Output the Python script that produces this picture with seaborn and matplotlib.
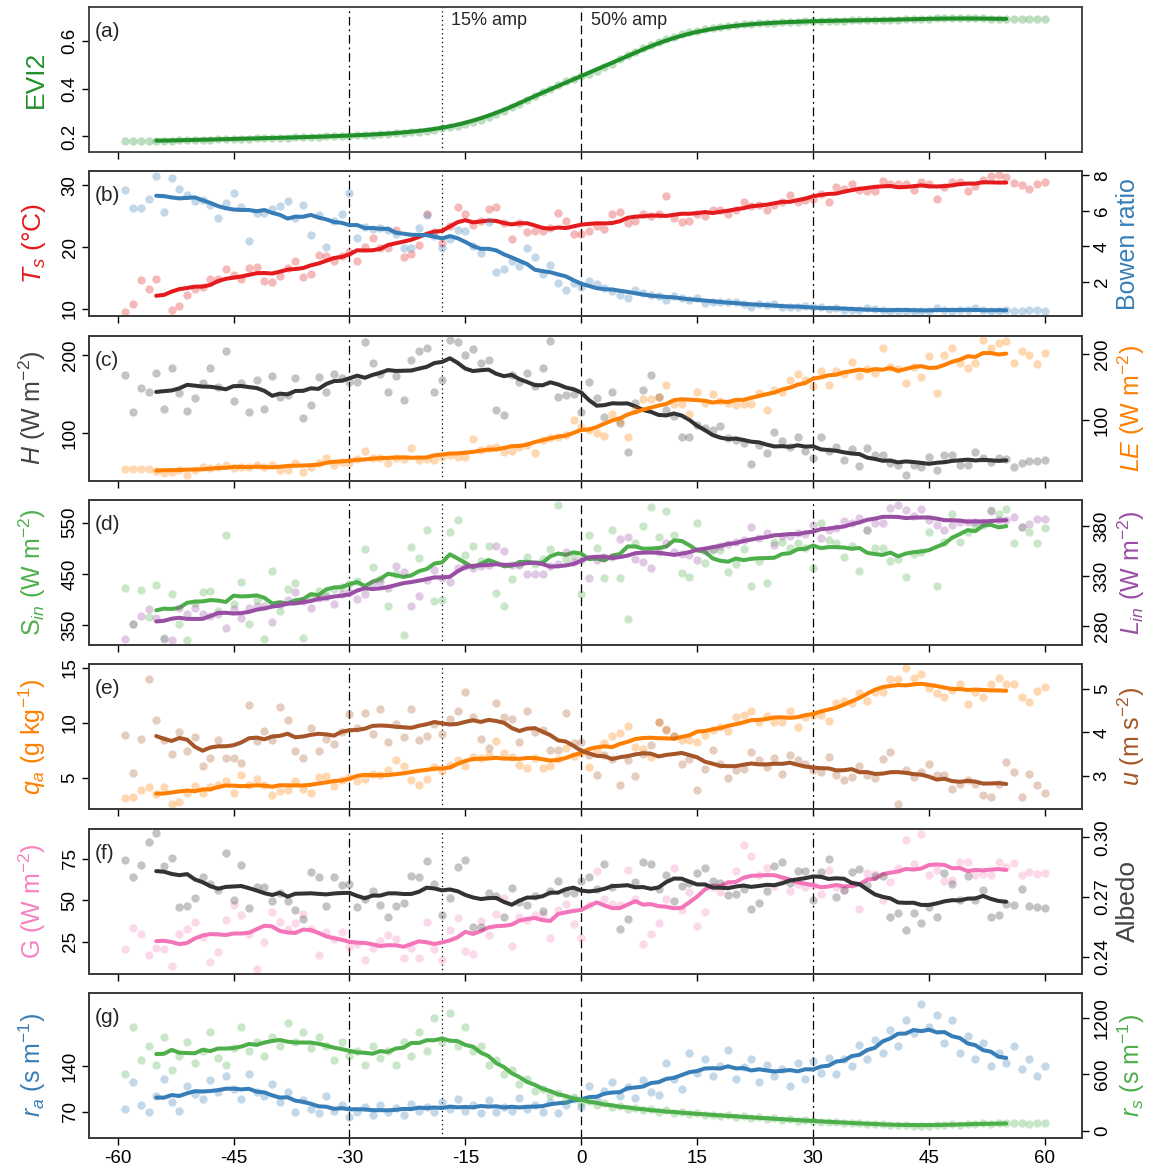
import numpy as np
import pandas as pd
import matplotlib
matplotlib.use("Agg")
import matplotlib.pyplot as plt
import seaborn as sns

# ---------------- data (days -60 .. 60, one value per day) ----------------
DAYS = list(range(-60, 61))
N = None

EVI2 = [N, .181, .181, .181, .181, .182, .183, .183, .184, .185,
        .186, .186, .187, .188, .189, .190, .191, .191, .192, .193,
        .194, .195, .195, .196, .197, .198, .199, .200, .201, .202,
        .204, .205, .207, .208, .210, .211, .213, .215, .218, .220,
        .224, .229, .235, .240, .245, .251, .260, .270, .281, .294,
        .308, .323, .338, .354, .370, .385, .400, .417, .433, .442,
        .452, .463, .476, .491, .506, .523, .540, .555, .569, .583,
        .597, .608, .618, .628, .637, .643, .649, .655, .660, .664,
        .667, .670, .672, .674, .676, .678, .679, .681, .682, .683,
        .684, .685, .685, .686, .686, .687, .687, .688, .688, .688,
        .689, .690, .691, .692, .693, .694, .695, .695, .696, .696,
        .696, .695, .695, .694, .694, .693, .692, .692, .691, .691, .691]

TS = [N, 9.5, 10.8, 14.7, 13.3, 14.9, N, 9.9, 10.5, 12.2,
      13.3, 13.6, 14.8, 14.9, 16.5, 15.5, 14.9, 16.6, 16.8, 14.5,
      14.3, 15.3, 16.6, 17.8, 15.2, 15.6, 18.8, 18.5, 17.7, 18.5,
      19.3, 17.7, 20.1, 21.5, 19.8, 19.8, 22.8, 18.4, 18.9, 20.3,
      25.3, 22.4, 20.7, 23.4, 26.5, 25.4, 23.6, 24.2, 26.2, 26.5,
      24.0, 21.4, 24.0, 22.4, 22.6, 22.7, 23.1, 25.5, 24.3, 22.2,
      22.2, 22.6, 23.5, 23.0, 25.4, 25.7, 24.0, 24.2, 25.3, 25.0,
      25.4, 28.3, 24.7, 24.1, 24.3, 25.4, 25.0, 26.1, 26.0, 25.3,
      26.1, 27.3, 26.6, 26.9, 26.0, 26.9, 27.4, 28.4, 27.3, 27.6,
      27.8, 28.6, 27.4, 29.7, 29.5, 30.2, 29.3, 29.1, 29.1, 30.7,
      30.3, 30.2, 30.2, 29.3, 30.5, 30.3, 27.8, 29.8, 30.5, 30.6,
      29.1, 29.9, 30.9, 31.5, 31.7, 31.3, 30.4, 30.1, 29.5, 30.2, 30.6]

BOWEN = [N, 7.15, 6.15, 6.15, 6.66, 7.98, 5.96, 7.85, 7.23, 6.87,
         6.53, 6.6, 6.34, 5.58, 6.43, 7.0, 6.2, 4.32, 5.87, 5.87,
         6.1, 6.25, 6.58, 5.58, 6.34, 4.64, 5.77, 3.94, 5.45, 5.83,
         7.0, 4.49, 5.1, 5.0, 5.02, 4.92, 4.7, 3.92, 3.92, 5.02,
         5.77, 4.6, 3.89, 4.4, 4.92, 4.87, 4.0, 3.6, 5.4, 2.57,
         2.75, 3.2, 2.89, 3.89, 3.42, 2.47, 2.94, 1.94, 1.53, 1.91,
         1.72, 2.06, 1.87, 1.66, 1.49, 1.25, 1.11, 1.53, 1.38, 1.25,
         1.19, 1.0, 1.19, 1.11, 0.96, 1.11, 0.81, 0.87, 0.87, 0.87,
         0.87, 0.74, 0.58, 0.74, 0.68, 0.74, 0.58, 0.58, 0.58, 0.62,
         0.58, 0.58, 0.49, 0.53, 0.40, 0.43, 0.40, 0.55, 0.49, 0.40,
         0.36, 0.36, 0.36, 0.38, 0.36, 0.38, 0.55, 0.40, 0.38, 0.40,
         0.40, 0.55, 0.40, 0.38, 0.38, 0.40, 0.36, 0.36, 0.40, 0.40, 0.36]

H = [N, 174.5, 127.7, 157.4, 153.2, 176.6, 130.6, 183, 151, 128.5,
     145.5, 163.8, 183.8, 158.7, 205.5, 141.7, 163.8, 127.7, 168, 130.6,
     173.2, 146.8, 149, 170.2, 119.1, 136.2, 172.3, 153.2, 175.3, 170,
     166, 165, 216, 189.4, 175.3, 153.2, 173.6, 142.6, 193.6, 205,
     208.5, 153.2, 168, 219, 216, 200, 207, 189.4, 193.6, 129.8,
     123.4, 174.5, 165, 176.6, 160, 183, 218.3, 146.8, 149, 150,
     127.7, 165, 144.7, 121.3, 153.2, 113.6, 76.6, 139.1, 155.3, 174.5,
     146.8, 130, 122.1, 94.9, 94.9, 110, 106.4, 104.3, 109.8, 93.6,
     92, 87.2, 60.9, 85, 75.3, 101.3, 90.6, 82, 94.9, 77.9,
     68.1, 95.7, 78, 83, 66, 79.6, 58.3, 80.9, 72.3, 72.3,
     61.7, 59.6, 46.4, 59.6, 57.4, 69.4, 53.2, 72.3, 72.3, 59.6,
     59.6, 76.6, 68.1, 63.8, 68.1, 67, 57.4, 62.6, 65.1, 65.1, 66]

LE = [N, 25.8, 25.8, 25.8, 25.8, 23, 19.2, 21.7, 24.2, 16.7,
      24.2, 28.3, 26.8, 29.3, 31.8, 26.8, 28.3, 29.3, 31.8, 28.3,
      31.8, 24.2, 24.2, 35.4, 21.7, 29.3, 34.3, 42.9, 31.8, 35.9,
      34.3, 40.9, 53.5, 42, 41.9, 34.3, 42, 40.9, 57.1, 39.4,
      40.9, 39.4, 44.4, 47, 44.4, 43.4, 70.7, 54.5, 58.1, 59.6,
      52, 53.5, 59.6, 62.1, 49.5, 69.7, 72.2, 74.7, 77.3, 100,
      89.9, 85, 80.8, 75.8, 109, 99, 74.7, 115, 131, 131,
      135, 153, 124, 124, 109, 143, 126, 139, 129, 125,
      123, 124, 124, 141, 115, 145, 143, 160.6, 169, 160,
      151.5, 174.7, 153, 174.7, 169, 187.4, 167, 177, 170.7, 208.6,
      179.8, 177, 155.6, 180.8, 164.6, 197, 140.4, 198.5, 208.6, 185.9,
      178.3, 185.9, 221, 208.6, 217, 220, 185.9, 205, 198.5, 184.3, 201]

SIN = [N, 422.5, 353, 418, 366, 429, 325, 411.5, 353, 322,
       393, 414.7, 416, 377, 526, 391.4, 433.5, 353, 400, 324,
       456, 377, 421.2, 432.2, 325, 405, 416, 410, 420, 425,
       430, 435.4, 499, 463.3, 440, 387, 450, 332, 501.5, 480.7,
       536, 396.6, 400, 531, 554, 486, 504.7, 476, 503.4, 412.8,
       387, 440.6, 470, 482.7, 470, 480, 499, 584, 480, 485,
       411.5, 524.8, 500, 442, 535.8, 442, 363, 511, 544, 581,
       521.5, 573, 524.8, 451.6, 445, 548.7, 471, 497, 497, 453.6,
       469, 498.9, 425.7, 474.3, 432.2, 513, 513, 500, 510, 500,
       461.3, 548.7, 516.3, 510, 482, 505, 454.9, 535.8, 500, 500,
       474.3, 479.4, 445, 488.5, 492.4, 531.2, 425.7, 513, 566.8, 513,
       530.6, 545, 545, 574.6, 566.2, 576.5, 509.9, 542.2, 532.5, 511, 538.7]

LIN = [N, 266.7, 282, 290.3, 297, 288, 267, 266, 297.7, 292,
       297.7, 291.7, 290, 292, 277.7, 297, 288.3, 298, 300, 300,
       283.7, 302, 306, 314.3, 305, 297.7, 308, 309, 302, 312,
       314, 306.7, 311.7, 322.7, 323.7, 318.3, 340.3, 333.7, 300, 310,
       326, 336, 328, 323.7, 338, 340.3, 337.7, 340, 341, 360.3,
       355, 341, 341, 332, 332, 332, 340, 342, 354.3, 344,
       346, 327.7, 346, 349, 349, 366.7, 368.7, 347, 344.3, 338.3,
       354, 362.7, 354, 352, 351, 346, 355, 357, 360, 362,
       364, 366, 379.3, 368, 372.7, 361, 370, 370, 372.7, 372,
       381, 368.3, 376, 378, 385, 383, 388.3, 376, 382.7, 382.7,
       397.7, 401, 396, 390, 397, 386, 381, 376, 381, 384,
       384, 384, 384, 395, 386, 386, 389.3, 378.7, 381.7, 387, 387]

QA = [N, 3.19, 3.34, 3.95, 4.25, 3.6, 4.25, 2.68, 2.89, 3.64,
      4.31, 3.7, 4.2, 4.4, 4.79, 3.64, 5.3, 4.4, 4.94, 4.4,
      3.49, 3.86, 3.95, 4.79, 4.04, 3.7, 5.15, 5.21, 4.31, 4.85,
      5.1, 4.79, 4.91, 5.36, 5.3, 5.75, 6.6, 6.11, 4.85, 4.4,
      4.94, 5.99, 5.66, 6.2, 6.66, 6.11, 6.96, 6.8, 7.11, 8.4,
      7.32, 6.9, 6.2, 5.9, 6.87, 5.9, 6.11, 6.7, 7.71, 7.0,
      7.26, 5.99, 7.5, 8.16, 8.77, 9.07, 9.76, 7.8, 7.62, 6.96,
      10.12, 9.43, 8.77, 8.46, 8.46, 8.31, 8.92, 9.37, 9.67, 9.22,
      10.57, 10.72, 11.11, 10.06, 10.66, 10.06, 10.12, 11.11, 9.67, 10.57,
      10.72, 10.72, 10.18, 11.78, 12.02, 11.78, 12.68, 12.02, 12.83, 12.83,
      13.98, 13.98, 14.94, 14.04, 14.43, 13.13, 12.68, 12.38, 12.98, 13.52,
      11.72, 12.83, 12.38, 13.52, 14.04, 13.52, 13.52, 12.32, 11.93, 12.92, 13.22]

U = [N, 3.95, 3.07, 3.84, 5.21, 4.29, 3.82, 3.5, 4.01, 3.57,
     3.89, 3.22, 3.41, 3.82, 3.41, 3.42, 3.3, 4.63, 3.8, 4.02,
     3.83, 4.58, 4.29, 3.57, 3.41, 4.11, 3.57, 3.84, 3.73, 4.0,
     4.43, 4.1, 4.44, 3.97, 4.54, 3.78, 4.2, 3.89, 4.54, 3.83,
     3.91, 4.2, 3.97, 4.3, 4.49, 4.92, 4.35, 3.84, 3.63, 4.68,
     4.35, 4.31, 3.78, 4.49, 4.01, 4.05, 3.6, 3.59, 4.44, 3.76,
     3.78, 3.47, 3.02, 3.47, 3.4, 2.79, 3.37, 2.99, 3.5, 3.7,
     4.24, 4.06, 3.91, 3.28, 3.4, 2.69, 3.17, 3.59, 3.27, 2.96,
     3.13, 3.15, 3.55, 3.36, 3.21, 3.41, 3.05, 3.47, 3.36, 3.28,
     3.13, 3.09, 3.44, 3.02, 2.92, 2.98, 3.22, 3.02, 2.96, 3.4,
     3.55, 2.35, 3.13, 2.98, 3.09, 3.27, 3.02, 3.02, 2.71, 2.82,
     2.9, 2.81, 2.56, 2.53, 2.81, 3.32, 3.09, 2.52, 3.05, 2.79, 2.61]

G = [N, 21, 33.6, 30, 17, 21.4, 21, 10.4, 29.6, 33,
     37, 28, 13, 19, 38, 47, 41, 30, 9, 25,
     43, 37, 33, 36.4, 42, 33, 17.4, 31, 27, 31,
     22, 24, 14, 21.6, 25.6, 29, 27, 15.6, 21.6, 15.6,
     37, 21, 14.4, 32, 39.6, 19.4, 17.6, 37.6, 29, 42,
     51.6, 22.6, 40, 38, 41, 42, 27.4, 44, 48, 36,
     27.4, 47, 67.6, 51, 48, 47, 68.4, 51, 24, 30,
     36.4, 50.6, 69.4, 44.4, 55, 34.4, 43, 58, 55, 60,
     67.6, 83, 76.4, 65, 69.6, 58.4, 62, 55.6, 60, 58,
     59, 53.6, 68.4, 58, 56, 60, 45, 66.4, 66, 50,
     61, 69.4, 86.4, 72, 90, 65, 68, 61.6, 62.4, 73,
     73, 65, 66, 65, 73, 70, 72.4, 65, 67, 66, 66.6]

ALBEDO = [N, .2889, .2802, .2864, .2978, .302, .2856, .2898, .2648, .2655,
          .2697, .2799, .2764, .2735, .2923, .2685, .2864, .2643, .275, .275,
          .268, .272, .268, .2635, .2588, .2824, .2802, .2656, .2802, .276,
          .2764, .2648, .2693, .273, .266, .2598, .2655, .267, .2806, .2802,
          .2883, .2764, .261, .2697, .2853, .2886, .2551, .2551, .2722, .2705,
          .2598, .2744, .2677, .266, .2707, .2631, .2732, .278, .272, .272,
          .278, .2799, .274, .2866, .275, .2542, .2588, .2777, .2878, .2869,
          .2739, .2811, .2682, .2755, .277, .2822, .2844, .278, .277, .271,
          .2718, .274, .2638, .2672, .2732, .2858, .2878, .277, .2832, .2832,
          .2688, .2827, .2894, .2702, .2735, .2827, .2839, .276, .2806, .2806,
          .2601, .2621, .2534, .262, .2568, .2648, .2601, .2819, .2765, .2685,
          .2806, .2685, .2735, .2598, .261, .2665, .266, .2739, .2655, .2648, .2643]

RA = [N, 75, 115, 80, 70, 95, 120, 85, 72, 110,
      98, 90, 118, 100, 125, 105, 90, 128, 100, 95,
      112, 85, 100, 70, 88, 75, 68, 95, 72, 80,
      62, 70, 78, 65, 80, 70, 76, 65, 82, 72,
      78, 70, 85, 75, 90, 72, 80, 68, 88, 70,
      78, 72, 92, 75, 80, 70, 85, 68, 80, 90,
      78, 110, 88, 102, 115, 95, 108, 92, 118, 100,
      96, 145, 120, 105, 160, 130, 150, 125, 140, 165,
      120, 138, 150, 115, 142, 125, 135, 110, 145, 120,
      148, 130, 152, 128, 150, 140, 172, 150, 180, 160,
      195, 170, 210, 190, 235, 200, 218, 175, 210, 160,
      185, 150, 175, 140, 160, 145, 170, 135, 150, 125, 140]

RS = [N, 600, 1100, 750, 900, 700, 1000, 650, 800, 950,
      720, 850, 1050, 780, 700, 880, 1100, 850, 950, 800,
      1000, 900, 1150, 950, 1050, 880, 1000, 900, 750, 950,
      800, 850, 700, 900, 780, 850, 700, 950, 800, 1050,
      850, 1200, 950, 1250, 900, 1100, 850, 900, 700, 750,
      600, 650, 500, 550, 420, 450, 380, 400, 330, 360,
      300, 320, 280, 300, 250, 270, 230, 240, 220, 230,
      200, 220, 190, 200, 180, 190, 170, 175, 160, 165,
      150, 155, 140, 145, 130, 135, 120, 125, 110, 115,
      105, 100, 95, 100, 90, 85, 80, 75, 70, 72,
      65, 60, 62, 58, 55, 58, 62, 65, 70, 68,
      72, 75, 80, 78, 82, 80, 85, 80, 78, 82, 80]

X_TICKS = [-60, -45, -30, -15, 0, 15, 30, 45, 60]
PANEL_LETTERS = ["(a)", "(b)", "(c)", "(d)", "(e)", "(f)", "(g)"]

for _arr in (EVI2, TS, BOWEN, H, LE, SIN, LIN, QA, U, G, ALBEDO, RA, RS):
    assert len(_arr) == len(DAYS), len(_arr)

# ---------------- style ----------------
sns.set_theme(style="ticks")
plt.rcParams['font.family'] = ['Liberation Sans', 'DejaVu Sans']
plt.rcParams['mathtext.fontset'] = 'custom'
plt.rcParams['mathtext.rm'] = 'Liberation Sans'
plt.rcParams['mathtext.it'] = 'Liberation Sans:italic'
plt.rcParams['mathtext.bf'] = 'Liberation Sans:bold'
plt.rcParams['axes.unicode_minus'] = False

C_EVI = '#21902a'
C_RED = '#e41a1c'
C_BLUE = '#377eb8'
C_GRAY = '#3a3a3a'
C_ORANGE = '#ff7f00'
C_GREEN = '#4daf4a'
C_PURPLE = '#984ea3'
C_BROWN = '#a65628'
C_PINK = '#f781bf'
C_PINK_L = '#f374b8'
SPINE = '#3c3c3c'

TICK_FS = 13.5
LABEL_FS = 18

W_PX, H_PX = 1156, 1172
fig = plt.figure(figsize=(W_PX / 100, H_PX / 100), dpi=100)

LEFT_PX, RIGHT_PX = 89, 1082
TOP0, PITCH, HGT = 7, 164.3, 145
XLIM = (-63.7, 64.8)


def smooth(vals):
    s = pd.Series(np.array(vals, dtype=float), index=DAYS)
    r = s.rolling(11, center=True, min_periods=1).mean().loc[-55:55]
    return r.index.values, r.values


def draw(ax, vals, color, lcolor=None):
    d = pd.DataFrame({'day': DAYS, 'v': np.array(vals, dtype=float)}).dropna()
    sns.scatterplot(data=d, x='day', y='v', ax=ax, color=color, alpha=0.3,
                    s=36, linewidth=0, legend=False, zorder=2)
    sx, sy = smooth(vals)
    sns.lineplot(x=sx, y=sy, ax=ax, color=lcolor or color, lw=2.9,
                 estimator=None, legend=False, zorder=3)
    ax.set_xlabel('')
    ax.set_ylabel('')


def style_y(ax, ylim, ticks, labels, label, color, side, fs=LABEL_FS):
    ax.set_ylim(*ylim)
    ax.set_yticks(ticks)
    ax.set_yticklabels(labels, rotation=90, va='center')
    if side == 'left':
        ax.tick_params(axis='y', direction='out', length=5, width=1, colors='black',
                       labelsize=TICK_FS, pad=2.5, left=True, right=False,
                       labelleft=True, labelright=False)
        ax.set_ylabel(label, color=color, fontsize=fs)
        ax.yaxis.set_label_coords(-0.041, 0.5)
    else:
        ax.tick_params(axis='y', direction='out', length=5, width=1, colors='black',
                       labelsize=TICK_FS, pad=3.5, left=False, right=True,
                       labelleft=False, labelright=True)
        ax.set_ylabel(label, color=color, fontsize=fs)
        ax.yaxis.set_label_position('right')
        ax.yaxis.set_label_coords(1.034, 0.5)
    for sp in ax.spines.values():
        sp.set_visible(True)
        sp.set_color(SPINE)
        sp.set_linewidth(1.3)


def make_panel(k):
    top = TOP0 + PITCH * k
    ax = fig.add_axes([LEFT_PX / W_PX, 1 - (top + HGT) / H_PX,
                       (RIGHT_PX - LEFT_PX) / W_PX, HGT / H_PX])
    ax.set_xlim(*XLIM)
    return ax


def finish_x(ax, k, last):
    ax.set_xlim(*XLIM)
    ax.set_xticks(X_TICKS)
    ax.set_xticklabels([str(t) for t in X_TICKS])
    ax.tick_params(axis='x', direction='out', length=5, width=1, colors='black',
                   labelsize=TICK_FS, pad=4, bottom=True, top=False, labelbottom=last)
    ax.axvline(-30, color='black', lw=0.9, ls=(0, (7, 3, 1.5, 3)), zorder=1)
    ax.axvline(30, color='black', lw=0.9, ls=(0, (7, 3, 1.5, 3)), zorder=1)
    ax.axvline(-18, color='black', lw=0.9, ls=(0, (1, 2.5)), zorder=1)
    ax.axvline(0, color='black', lw=0.9, ls=(0, (7, 3.5)), zorder=1)
    ax.text(0.006, 0.83, PANEL_LETTERS[k], transform=ax.transAxes, fontsize=15,
            ha='left', va='center', zorder=5)


# (a) EVI2
ax = make_panel(0)
draw(ax, EVI2, C_EVI)
style_y(ax, (0.135, 0.743), [0.2, 0.4, 0.6], ['0.2', '0.4', '0.6'], 'EVI2', C_EVI, 'left', fs=19)
finish_x(ax, 0, False)
ax.text(-16.8, 0.905, '15% amp', transform=ax.get_xaxis_transform(), fontsize=13,
        ha='left', va='center')
ax.text(1.2, 0.905, '50% amp', transform=ax.get_xaxis_transform(), fontsize=13,
        ha='left', va='center')

# (b) Ts / Bowen ratio
ax = make_panel(1)
draw(ax, TS, C_RED)
style_y(ax, (8.8, 32.3), [10, 20, 30], ['10', '20', '30'], r'$T_s$ (°C)', C_RED, 'left', fs=19)
finish_x(ax, 1, False)
ax2 = ax.twinx()
draw(ax2, BOWEN, C_BLUE)
style_y(ax2, (0.06, 8.23), [2, 4, 6, 8], ['2', '4', '6', '8'], 'Bowen ratio', C_BLUE, 'right')

# (c) H / LE
ax = make_panel(2)
draw(ax, H, C_GRAY, '#333333')
style_y(ax, (39.6, 224.7), [100, 200], ['100', '200'], r'$H$ (W m$^{-2}$)', '#444444', 'left')
finish_x(ax, 2, False)
ax2 = ax.twinx()
draw(ax2, LE, C_ORANGE)
style_y(ax2, (8, 227.8), [100, 200], ['100', '200'], r'$LE$ (W m$^{-2}$)', C_ORANGE, 'right')

# (d) Sin / Lin
ax = make_panel(3)
draw(ax, SIN, C_GREEN)
style_y(ax, (312, 594), [350, 450, 550], ['350', '450', '550'], r'S$_{in}$ (W m$^{-2}$)', C_GREEN, 'left')
finish_x(ax, 3, False)
ax2 = ax.twinx()
draw(ax2, LIN, C_PURPLE)
style_y(ax2, (261, 406), [280, 330, 380], ['280', '330', '380'], r'$L_{in}$ (W m$^{-2}$)', C_PURPLE, 'right')

# (e) qa / u
ax = make_panel(4)
draw(ax, QA, C_ORANGE)
style_y(ax, (2.2, 15.3), [5, 10, 15], ['5', '10', '15'], r'$q_a$ (g kg$^{-1}$)', C_ORANGE, 'left')
finish_x(ax, 4, False)
ax2 = ax.twinx()
draw(ax2, U, C_BROWN)
style_y(ax2, (2.24, 5.56), [3, 4, 5], ['3', '4', '5'], r'$u$ (m s$^{-2}$)', C_BROWN, 'right')

# (f) G / Albedo
ax = make_panel(5)
draw(ax, G, C_PINK, C_PINK_L)
style_y(ax, (6, 93), [25, 50, 75], ['25', '50', '75'], r'G (W m$^{-2}$)', C_PINK, 'left')
finish_x(ax, 5, False)
ax2 = ax.twinx()
draw(ax2, ALBEDO, C_GRAY, '#333333')
style_y(ax2, (0.2316, 0.3045), [0.24, 0.27, 0.30], ['0.24', '0.27', '0.30'], 'Albedo', '#444444', 'right', fs=19)

# (g) ra / rs
ax = make_panel(6)
draw(ax, RA, C_BLUE)
style_y(ax, (30.7, 251.4), [70, 140], ['70', '140'], r'$r_a$ (s m$^{-1}$)', C_BLUE, 'left')
finish_x(ax, 6, True)
ax2 = ax.twinx()
draw(ax2, RS, C_GREEN)
style_y(ax2, (-72, 1467), [0, 600, 1200], ['0', '600', '1200'], r'$r_s$ (s m$^{-1}$)', C_GREEN, 'right')

fig.savefig('out.png', dpi=100)
